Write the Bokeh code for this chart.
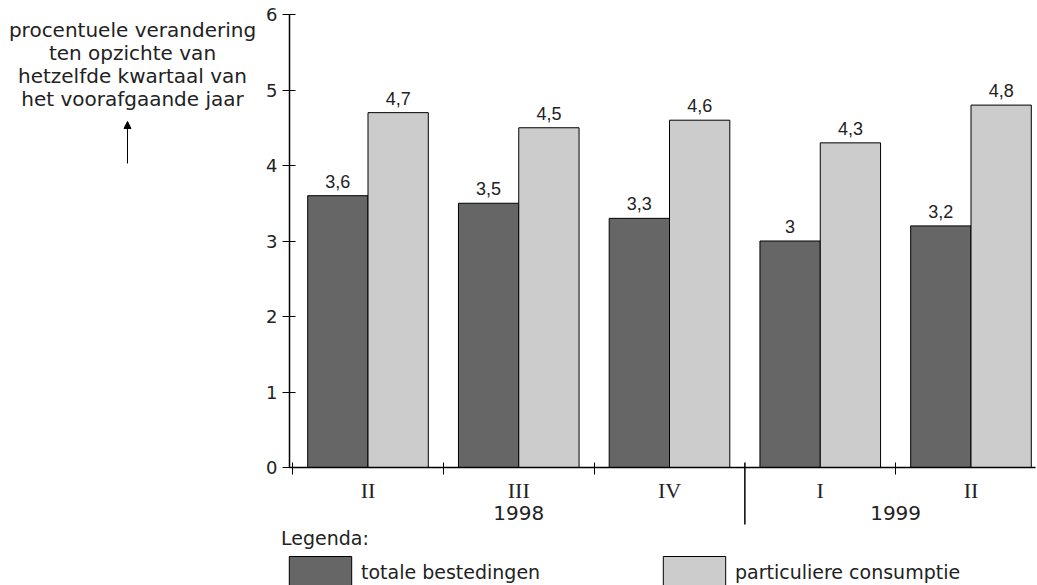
from bokeh.plotting import figure
from bokeh.models import (Range1d, FixedTicker, LinearAxis, Label, Arrow, NormalHead,
                          Legend, LegendItem, ColumnDataSource)
from bokeh.core.properties import value
from bokeh.embed import file_html
from bokeh.resources import INLINE

quarters = ["II", "III", "IV", "I", "II"]
years = ["1998", "1999"]
totale = [3.6, 3.5, 3.3, 3.0, 3.2]
particuliere = [4.7, 4.5, 4.6, 4.3, 4.8]
y_ticks = [0, 1, 2, 3, 4, 5, 6]
y_title = "procentuele verandering\nten opzichte van\nhetzelfde kwartaal van\nhet voorafgaande jaar"

SANS = "DejaVu Sans"
DARK = "#666666"
LIGHT = "#cccccc"
INK = "#222222"

W, H = 1037, 585
PX_X = 150.75      # pixels per group
X0_PX = 367.5      # pixel of first group centre
PX_Y = 75.5        # pixels per unit
Y0_PX = 467        # pixel of y=0

def fmt(v):
    return f"{v:g}".replace(".", ",")

def dx(px):
    return (px - X0_PX) / PX_X

def dy(py):
    return (Y0_PX - py) / PX_Y

xs = list(range(len(quarters)))
src_t = ColumnDataSource(dict(x=[i - 0.2 for i in xs], top=totale, lab=[fmt(v) for v in totale]))
src_p = ColumnDataSource(dict(x=[i + 0.2 for i in xs], top=particuliere, lab=[fmt(v) for v in particuliere]))

p = figure(width=W, height=H, output_backend="svg", toolbar_location=None,
           x_range=Range1d(dx(0), dx(W)), y_range=Range1d(dy(H), dy(0)),
           min_border=0, x_axis_type=None, y_axis_type=None)
p.outline_line_color = None
p.background_fill_color = "white"
p.border_fill_color = "white"
p.grid.visible = False

x_left = dx(289)
x_right = dx(1035)

r1 = p.vbar(x="x", top="top", width=0.4, source=src_t, fill_color=DARK, line_color="black", line_width=1)
r2 = p.vbar(x="x", top="top", width=0.4, source=src_p, fill_color=LIGHT, line_color="black", line_width=1)

for src in (src_t, src_p):
    p.text(x="x", y="top", text="lab", source=src, text_align="center", text_baseline="bottom",
           y_offset=-8, text_font=value("Liberation Sans"), text_font_size="18px", text_color=INK)

# y axis
yax = LinearAxis(ticker=FixedTicker(ticks=y_ticks), fixed_location=x_left, bounds=(0, 6))
yax.major_tick_in = 6
yax.major_tick_out = 7
yax.minor_tick_line_color = None
yax.major_label_text_font = SANS
yax.major_label_text_font_size = "18px"
yax.major_label_text_color = INK
yax.major_label_standoff = 5
yax.axis_line_color = "black"
yax.axis_line_width = 1.5
p.add_layout(yax, "left")

# x axis with quarters
xax = LinearAxis(ticker=FixedTicker(ticks=xs, minor_ticks=[-0.5, 0.5, 1.5, 3.5]),
                 fixed_location=0, bounds=(x_left, x_right))
xax.major_label_overrides = {i: q for i, q in enumerate(quarters)}
xax.major_tick_line_color = None
xax.minor_tick_in = 5
xax.minor_tick_out = 7
xax.minor_tick_line_color = "black"
xax.major_label_text_font = "Liberation Serif"
xax.major_label_text_font_size = "22px"
xax.major_label_text_color = INK
xax.major_label_standoff = 3
xax.axis_line_color = "black"
xax.axis_line_width = 1.5
p.add_layout(xax, "below")

# axis with years
year_pos = [1, 3.5]
yrax = LinearAxis(ticker=FixedTicker(ticks=year_pos, minor_ticks=[]), fixed_location=0)
yrax.major_label_overrides = {1: years[0], 3.5: years[1]}
yrax.axis_line_color = None
yrax.major_tick_line_color = None
yrax.minor_tick_line_color = None
yrax.major_tick_in = 0
yrax.major_tick_out = 0
yrax.major_label_standoff = 38
yrax.major_label_text_font = SANS
yrax.major_label_text_font_size = "20px"
yrax.major_label_text_color = INK
p.add_layout(yrax, "below")

# year divider
p.segment(x0=[2.5], y0=[dy(462)], x1=[2.5], y1=[dy(524)], line_color="black", line_width=1.5)

# y title and arrow
p.add_layout(Label(x=dx(132), y=dy(17.5), text=y_title, text_align="center", text_baseline="top",
                   text_font=SANS, text_font_size="20px", text_color=INK, text_line_height=0.965))
p.add_layout(Arrow(end=NormalHead(size=7, fill_color="black", line_color="black"),
                   x_start=dx(127), y_start=dy(163), x_end=dx(127), y_end=dy(121),
                   line_color="black", line_width=1))

legend = Legend(items=[LegendItem(label="totale bestedingen", renderers=[r1]),
                       LegendItem(label="particuliere consumptie", renderers=[r2])],
                location=(281, -7), orientation="horizontal", title="Legenda:",
                glyph_width=78, glyph_height=40, label_width=290, spacing=4,
                padding=0, margin=0, border_line_color=None, background_fill_alpha=0,
                label_standoff=2, title_standoff=3)
legend.label_text_font = SANS
legend.label_text_font_size = "19px"
legend.label_text_color = INK
legend.title_text_font = SANS
legend.title_text_font_size = "19px"
legend.title_text_font_style = "normal"
legend.title_text_color = INK
p.add_layout(legend)

open("out.html", "w").write(file_html(p, INLINE))
